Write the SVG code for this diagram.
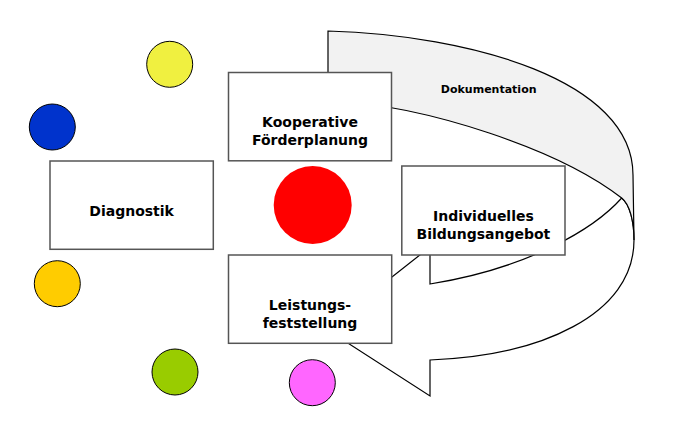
<svg xmlns="http://www.w3.org/2000/svg" width="676" height="424" viewBox="0 0 676 424">
<style>
.box{fill:#fff;stroke:#555;stroke-width:1.5}
.lbl{font-family:"DejaVu Sans","Verdana",sans-serif;font-weight:bold;font-size:14px;fill:#000;text-anchor:middle}
.dot{stroke:#000;stroke-width:1}
.arr{stroke:#000;stroke-width:1.2;stroke-linejoin:miter}
</style>
<rect width="676" height="424" fill="#fff"/>
<g id="connectors">
<path class="arr" fill="#fff" d="M 621.7,198 C 630,204.5 634,222 634,240 C 634,315 540,356 430,360 L 430,396 L 326,329 L 430,247 L 430,284 C 530,268 595,228 621.7,198 Z"/>
<path class="arr" fill="#f2f2f2" d="M 328,31 C 470,35 633,80 633,175 L 634,240 C 634,222 630,204.5 621.7,198 C 560,150 430,106 328,100 Z"/>
<text x="488.7" y="92.7" class="lbl" style="font-size:11px">Dokumentation</text>
</g>
<g id="circles">
<circle class="dot" cx="169.7" cy="64.3" r="23" fill="#f0f040"/>
<circle class="dot" cx="52.3" cy="127" r="23" fill="#0033cc"/>
<circle class="dot" cx="57.3" cy="283.7" r="23" fill="#ffcc00"/>
<circle class="dot" cx="175" cy="372" r="23" fill="#99cc00"/>
<circle class="dot" cx="312.3" cy="382.7" r="23" fill="#ff66ff"/>
<circle cx="312.7" cy="205" r="39" fill="#ff0000"/>
</g>
<g id="diagnostik">
<rect class="box" x="50" y="161" width="163.3" height="88.3"/>
<text class="lbl" x="131.6" y="215.7">Diagnostik</text>
</g>
<g id="kooperative">
<rect class="box" x="228.5" y="72.5" width="163" height="88.3"/>
<text class="lbl" x="310" y="126.8">Kooperative</text>
<text class="lbl" x="310" y="145.2">Förderplanung</text>
</g>
<g id="individuelles">
<rect class="box" x="401.8" y="166" width="163.2" height="89"/>
<text class="lbl" x="483.4" y="220.7">Individuelles</text>
<text class="lbl" x="483.4" y="239">Bildungsangebot</text>
</g>
<g id="leistung">
<rect class="box" x="228.5" y="255" width="163.2" height="88.3"/>
<text class="lbl" x="310" y="309.5">Leistungs-</text>
<text class="lbl" x="310" y="327.8">feststellung</text>
</g>
</svg>
